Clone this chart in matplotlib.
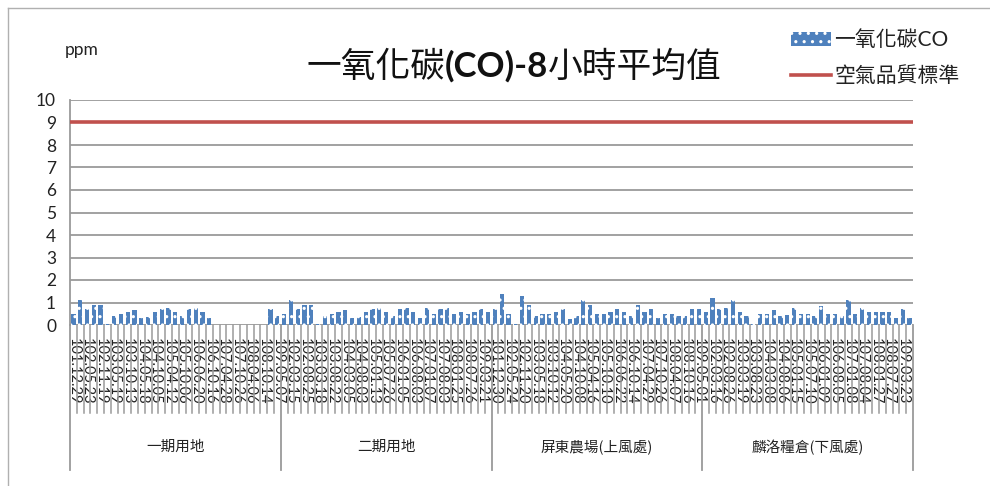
import numpy as np
import matplotlib
matplotlib.use("Agg")
import matplotlib.pyplot as plt
from matplotlib.lines import Line2D
from matplotlib.patches import Patch

nan = np.nan
# ---------------- data ----------------
groups = ["一期用地", "二期用地", "屏東農場(上風處)", "麟洛糧倉(下風處)"]
n_per_group = 31

vals_g1 = [0.5, 1.1, 0.7, 0.9, 0.9, 0.03, 0.4, 0.5, 0.6, 0.65, 0.3, 0.35, 0.6, 0.7, 0.75,
           0.6, 0.4, 0.7, 0.75, 0.6, 0.3, nan, nan, nan, nan, nan, nan, nan, nan, 0.7, 0.4]
vals_g2 = [0.5, 1.1, 0.7, 0.9, 0.9, 0.03, 0.4, 0.5, 0.6, 0.65, 0.3, 0.35, 0.6, 0.7, 0.75,
           0.6, 0.4, 0.7, 0.75, 0.6, 0.3, 0.75, 0.5, 0.7, 0.75, 0.5, 0.6, 0.5, 0.6, 0.7, 0.6]
vals_g3 = [0.7, 1.4, 0.5, 0.03, 1.3, 0.9, 0.4, 0.5, 0.5, 0.6, 0.7, 0.25, 0.4, 1.1, 0.9,
           0.5, 0.5, 0.6, 0.7, 0.6, 0.4, 0.9, 0.6, 0.7, 0.3, 0.5, 0.5, 0.4, 0.4, 0.7, 0.7]
vals_g4 = [0.6, 1.2, 0.7, 0.75, 1.1, 0.6, 0.4, 0.03, 0.5, 0.5, 0.65, 0.4, 0.45, 0.75, 0.5,
           0.5, 0.4, 0.85, 0.5, 0.5, 0.4, 1.1, 0.5, 0.75, 0.6, 0.6, 0.6, 0.6, 0.3, 0.7, 0.3]

# visible category labels (every second category across the axis)
labels_g1 = ["101.12.29", "102.05.23", "102.11.19", "103.05.19", "103.10.13", "104.05.18",
             "104.10.05", "105.04.12", "105.10.06", "106.06.20", "106.10.16", "107.04.28",
             "107.10.26", "108.04.06", "108.10.14", "109.05.07"]
labels_g2 = ["102.03.15", "102.08.25", "103.03.18", "103.08.22", "104.03.05", "104.08.03",
             "105.01.13", "105.07.26", "106.01.05", "106.08.03", "107.01.07", "107.08.03",
             "108.01.25", "108.07.26", "109.03.21"]
labels_g3 = ["101.12.30", "102.05.24", "102.11.20", "103.05.18", "103.10.12", "104.05.20",
             "104.10.08", "105.04.16", "105.10.10", "106.06.22", "106.10.14", "107.04.29",
             "107.10.26", "108.04.07", "108.10.16", "109.05.01"]
labels_g4 = ["102.03.16", "102.08.26", "103.03.19", "103.08.23", "104.03.08", "104.08.06",
             "105.01.15", "105.07.10", "106.01.09", "106.08.05", "107.01.08", "107.08.04",
             "108.01.27", "108.07.27", "109.03.23"]

standard = 9
series_bar = "一氧化碳CO"
series_line = "空氣品質標準"
title_parts = [("一氧化碳", "normal"), ("(CO)-8", "bold"), ("小時平均值", "normal")]
y_unit = "ppm"

# ---------------- figure ----------------
W, H = 990, 486
fig = plt.figure(figsize=(W / 100, H / 100), dpi=100)
cjk = ["Lato", "Noto Sans CJK TC", "DejaVu Sans"]
plt.rcParams["font.family"] = cjk
plt.rcParams["hatch.linewidth"] = 1.1

def fx(px):
    return px / W

def fy(py):
    return 1 - py / H

ax_l, ax_r, ax_t, ax_b = 70, 913, 100, 325
ax = fig.add_axes([fx(ax_l), fy(ax_b), fx(ax_r - ax_l), (ax_b - ax_t) / H])

values = np.array(vals_g1 + vals_g2 + vals_g3 + vals_g4, dtype=float)
n = len(values)
x = np.arange(n)

grid_c = "#9A9A9A"
ax.set_ylim(0, 10)
ax.set_xlim(-0.5, n - 0.5)
ax.set_yticks(range(0, 11))
for yv in range(0, 11):
    ax.axhline(yv, color=grid_c, lw=1.3, zorder=0)

bars = ax.bar(x, np.nan_to_num(values, nan=0.0), width=0.62, color="#4F81BD",
              edgecolor="white", hatch="..", linewidth=0, zorder=2)
for b, v in zip(bars, values):
    if np.isnan(v):
        b.set_visible(False)

ax.plot([-0.5, n - 0.5], [standard, standard], color="#C0504D", lw=2.6, zorder=3,
        solid_capstyle="butt")

for s in ["top", "right", "bottom"]:
    ax.spines[s].set_visible(False)
ax.spines["left"].set_color(grid_c)
ax.spines["left"].set_linewidth(1.3)

ax.tick_params(axis="y", length=0, pad=10, labelsize=12.5, labelcolor="#222222")

# category labels
all_labels = labels_g1 + labels_g2 + labels_g3 + labels_g4
tick_pos = np.arange(0, n, 2)[:len(all_labels)]
ax.set_xticks(tick_pos)
ax.set_xticklabels(all_labels, rotation=270, fontsize=10.5, color="#222222")
ax.tick_params(axis="x", length=0, pad=9)

# category separators and group separators
tr = ax.get_xaxis_transform()
cat_bottom = -(413 - ax_b) / (ax_b - ax_t)
grp_bottom = -(470 - ax_b) / (ax_b - ax_t)
for i in range(n + 1):
    xb = i - 0.5
    if i % n_per_group == 0:
        ax.plot([xb, xb], [0, grp_bottom], color=grid_c, lw=1.3, transform=tr, clip_on=False)
    else:
        ax.plot([xb, xb], [0, cat_bottom], color=grid_c, lw=1.1, transform=tr, clip_on=False)

grp_y = -(447 - ax_b) / (ax_b - ax_t)
for gi, g in enumerate(groups):
    cx = gi * n_per_group + (n_per_group - 1) / 2
    ax.text(cx, grp_y, g, transform=tr, ha="center", va="center", fontsize=10.5,
            color="#222222", family=["Noto Sans CJK TC", "DejaVu Sans"])

# unit label
fig.text(fx(65), fy(50), y_unit, ha="left", va="center", fontsize=12.5, color="#222222")

# title composed of pieces (CJK regular, Latin bold)
renderer = fig.canvas.get_renderer()
pieces = []
for txt, wt in title_parts:
    t = fig.text(0, fy(77), txt, fontsize=25, fontweight=wt, ha="left", va="baseline",
                 color="#111111", family=cjk)
    pieces.append(t)
widths = [p.get_window_extent(renderer).width for p in pieces]
total = sum(widths)
start = 514 - total / 2
for p, w in zip(pieces, widths):
    p.set_x(fx(start))
    start += w

# legend
handles = [Patch(facecolor="#4F81BD", edgecolor="white", hatch="..", linewidth=0),
           Line2D([0], [0], color="#C0504D", lw=2.6)]
leg = fig.legend(handles, [series_bar, series_line], loc="upper left",
                 bbox_to_anchor=(fx(783), fy(22)), frameon=False, fontsize=15,
                 handlelength=1.9, handleheight=0.7, handletextpad=0.15,
                 labelspacing=0.75, borderaxespad=0)
for t in leg.get_texts():
    t.set_color("#222222")

# chart border
fig.add_artist(Line2D([fx(8), fx(8)], [0, fy(8)], color="#B0B0B0", lw=1.0))
fig.add_artist(Line2D([fx(8), 1], [fy(8), fy(8)], color="#B0B0B0", lw=1.0))

fig.savefig("out.png", dpi=100)
